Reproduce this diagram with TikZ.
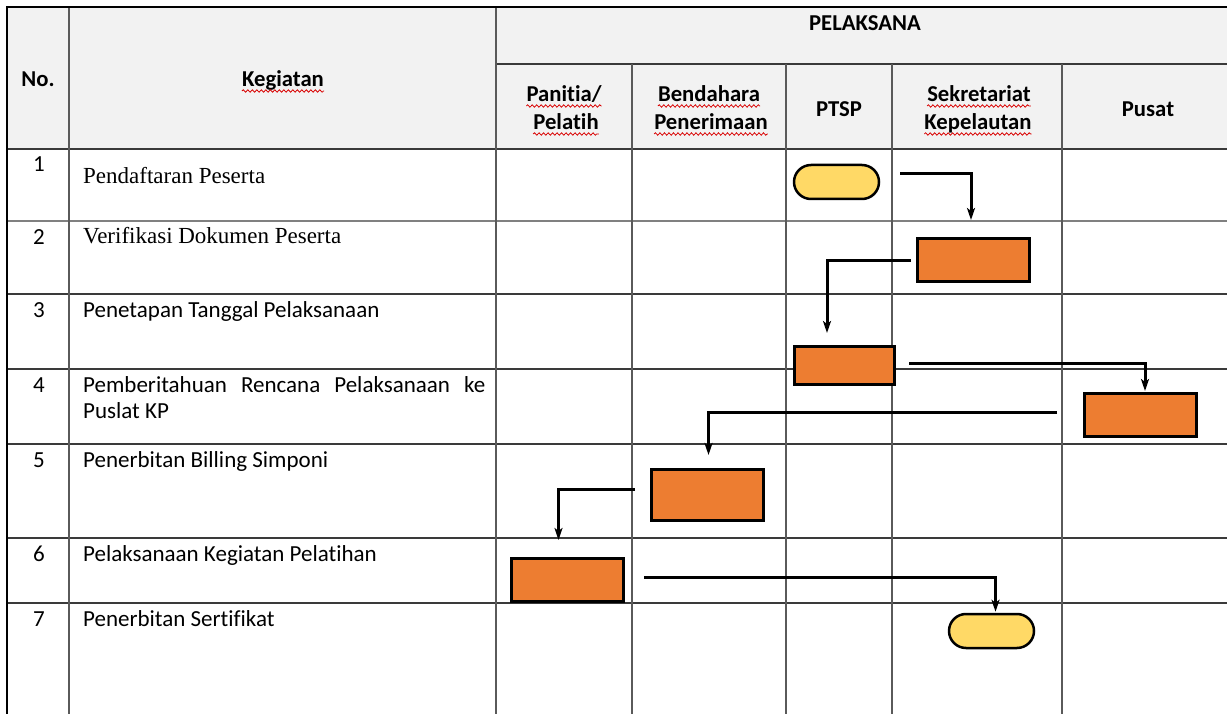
\documentclass[tikz,border=0pt]{standalone}
\usepackage{fontspec}
\setmainfont{Carlito}[Ligatures=NoCommon]
\newfontfamily\timesf{Liberation Serif}
\usetikzlibrary{arrows.meta,decorations.pathmorphing,calc}
\definecolor{hdr}{HTML}{F2F2F2}
\definecolor{orangebox}{HTML}{ED7D31}
\definecolor{yellowterm}{HTML}{FFD966}
\definecolor{gridc}{HTML}{3A3A3A}
\definecolor{gridv}{HTML}{5A5A5A}
\begin{document}
\begin{tikzpicture}[x=1pt,y=-1pt,
  hline/.style={draw=gridc,line width=1.4pt},
  vline/.style={draw=gridv,line width=1.2pt},
  outline/.style={draw=black,line width=2pt},
  procbox/.style={draw=black,line width=3pt,fill=orangebox,minimum width=112pt,minimum height=43pt,inner sep=0pt},
  termbox/.style={draw=black,line width=2.5pt,fill=yellowterm,rounded corners=17pt,minimum width=85pt,minimum height=34pt,inner sep=0pt},
  flow/.style={draw=black,line width=3pt,-{Stealth[length=12pt,width=8pt,inset=3pt]}},
  hdrtxt/.style={font=\fontsize{22.7}{27}\selectfont\bfseries,inner sep=0pt,anchor=base},
  numtxt/.style={font=\fontsize{23}{27}\selectfont,inner sep=0pt,anchor=base},
  rowtxt/.style={font=\fontsize{23}{27}\selectfont,inner sep=0pt,anchor=base west},
  sertxt/.style={font=\fontsize{23}{27}\selectfont\timesf,inner sep=0pt,anchor=base west},
  squig/.style={draw=red!85!black,line width=0.8pt,decorate,decoration={snake,amplitude=1.2pt,segment length=4.5pt}}
]
\useasboundingbox (0,0) rectangle (1227,714);
\fill[white] (0,0) rectangle (1227,714);
% header background
\fill[hdr] (7,7) rectangle (1227,149);
% horizontal lines
\draw[hline] (496,64) -- (1227,64);
\foreach \yy in {149,294,369,444,538,603} {\draw[hline] (7,\yy) -- (1227,\yy);}
\draw[draw=gray,line width=1.8pt] (7,221) -- (1227,221);
% vertical lines
\draw[vline] (69,7) -- (69,714);
\draw[vline] (496,7) -- (496,714);
\foreach \xx in {632,786,892,1062} {\draw[vline] (\xx,64) -- (\xx,714);}
\draw[outline] (1227,7) -- (7,7) -- (7,714);

% header texts
\node[hdrtxt] (hNo) at (38,87) {No.};
\node[hdrtxt] (hKeg) at (283,87) {Kegiatan};
\node[hdrtxt] (hPel) at (865,31) {PELAKSANA};
\node[hdrtxt] (hPan1) at (564,102) {Panitia/};
\node[hdrtxt] (hPan2) at (566,130) {Pelatih};
\node[hdrtxt] (hBen1) at (709,102) {Bendahara};
\node[hdrtxt] (hBen2) at (711,130) {Penerimaan};
\node[hdrtxt] (hPtsp) at (839,117) {PTSP};
\node[hdrtxt] (hSek1) at (979,102) {Sekretariat};
\node[hdrtxt] (hSek2) at (978,130) {Kepelautan};
\node[hdrtxt] (hPus) at (1148,117) {Pusat};

% spell-check squiggles
\foreach \n in {hKeg,hPan1,hPan2,hBen1,hBen2,hSek1,hSek2}
  {\draw[squig] ($(\n.base west)+(0,4)$) -- ($(\n.base east)+(0,4)$);}

% numbers
\node[numtxt] (n1) at (39,172) {1};
\node[numtxt] (n2) at (39,245) {2};
\node[numtxt] (n3) at (39,317) {3};
\node[numtxt] (n4) at (39,392) {4};
\node[numtxt] (n5) at (39,467) {5};
\node[numtxt] (n6) at (39,561) {6};
\node[numtxt] (n7) at (39,626) {7};

% activities
\node[sertxt] (k1) at (83,184) {Pendaftaran Peserta};
\node[sertxt] (k2) at (83,244) {Verifikasi Dokumen Peserta};
\node[rowtxt] (k3) at (83,317) {Penetapan Tanggal Pelaksanaan};
\node[rowtxt] (k4a) at (83,392) {\makebox[402pt][s]{Pemberitahuan Rencana Pelaksanaan ke}};
\node[rowtxt] (k4b) at (83,418) {Puslat KP};
\node[rowtxt] (k5) at (83,467) {Penerbitan Billing Simponi};
\node[rowtxt] (k6) at (83,561) {Pelaksanaan Kegiatan Pelatihan};
\node[rowtxt] (k7) at (83,626) {Penerbitan Sertifikat};

% flow shapes
\node[termbox] (t1) at (836.5,182) {};
\node[procbox] (b2) at (973.5,260) {};
\node[procbox,minimum width=100pt,minimum height=38pt] (b3) at (844.5,365.5) {};
\node[procbox] (b4) at (1140.5,415) {};
\node[procbox,minimum height=51pt] (b5) at (707.5,495) {};
\node[procbox] (b6) at (567.5,580) {};
\node[termbox] (t2) at (991.5,631) {};

% connectors
\draw[flow] ($(t1.east)+(20,-8)$) -| ($(b2.north)+(-2.5,-17)$);
\draw[flow] ($(b2.west)+(-5,1)$) -| ($(b3.north)+(-17.5,-12)$);
\draw[flow] ($(b3.east)+(13,-2.5)$) -| ($(b4.north)+(4.5,-1)$);
\draw[flow] ($(b4.west)+(-26,-3)$) -| ($(b5.north)+(1,-13)$);
\draw[flow] ($(b5.west)+(-15,-6)$) -| ($(b6.north)+(-9,-17)$);
\draw[flow] ($(b6.east)+(19,-3)$) -| ($(t2.north)+(4,-1)$);
\end{tikzpicture}
\end{document}
